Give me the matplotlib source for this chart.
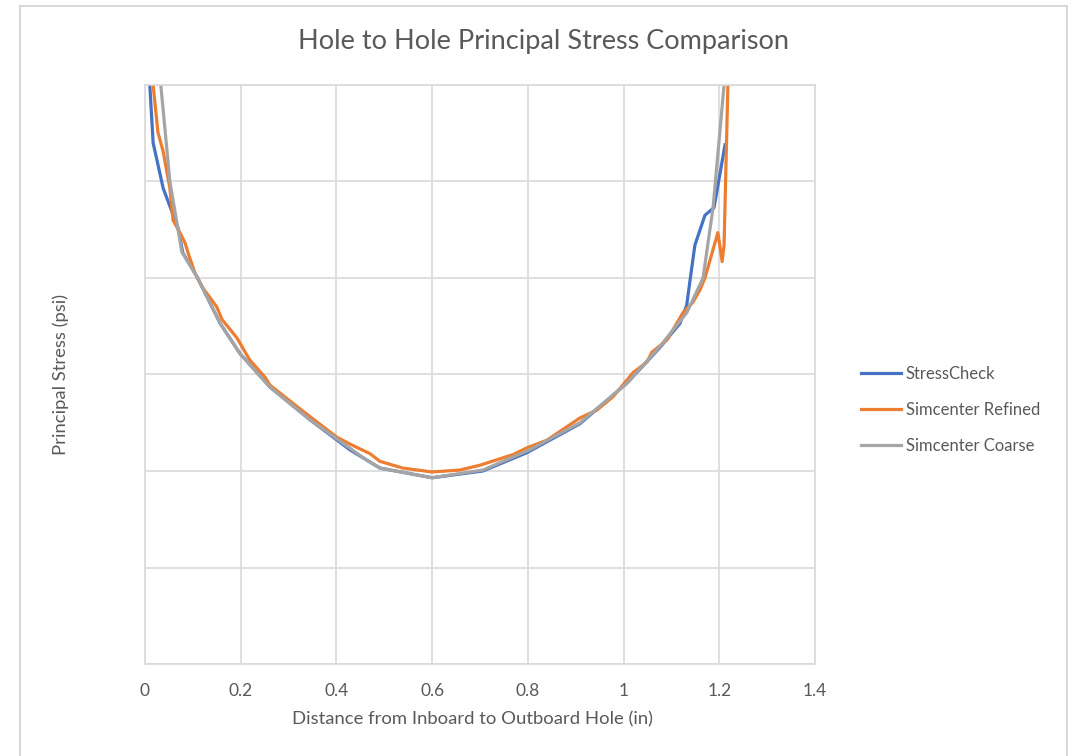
import matplotlib
matplotlib.use("Agg")
import matplotlib.pyplot as plt
from matplotlib.lines import Line2D

plt.rcParams['font.family'] = ['Lato', 'DejaVu Sans']

# Distance (in) and principal stress (psi) for each series
sc_x = [0.010, 0.017, 0.038, 0.069, 0.079, 0.109, 0.157, 0.198, 0.261, 0.345,
        0.428, 0.491, 0.600, 0.706, 0.798, 0.909, 1.007, 1.076, 1.118, 1.132,
        1.139, 1.149, 1.170, 1.189, 1.212]
sc_y = [60000, 54000, 49300, 45200, 42600, 40100, 35300, 32200, 28700, 25300,
        22200, 20300, 19300, 20000, 21900, 24900, 29100, 32800, 35300, 37200,
        39800, 43400, 46500, 47300, 53800]

sr_x = [0.014, 0.017, 0.027, 0.038, 0.052, 0.0585, 0.073, 0.084, 0.090, 0.1045,
        0.119, 0.150, 0.161, 0.192, 0.219, 0.251, 0.261, 0.330, 0.401, 0.428,
        0.470, 0.491, 0.539, 0.600, 0.658, 0.700, 0.769, 0.798, 0.840, 0.909,
        0.944, 0.978, 1.020, 1.049, 1.059, 1.091, 1.124, 1.145, 1.160, 1.170,
        1.197, 1.206, 1.210, 1.218, 1.222]
sr_y = [66000, 60000, 55100, 53100, 49300, 46000, 44700, 43600, 42600, 40500,
        39100, 37000, 35700, 33800, 31500, 29700, 28900, 26200, 23500, 22800,
        21800, 21000, 20300, 19900, 20100, 20600, 21700, 22400, 23200, 25500,
        26300, 27700, 30200, 31300, 32300, 33600, 36400, 37500, 38800, 40000,
        44700, 41700, 43400, 60000, 66000]

cc_x = [0.028, 0.033, 0.052, 0.077, 0.109, 0.157, 0.198, 0.261, 0.345, 0.464,
        0.491, 0.600, 0.706, 0.804, 0.909, 1.007, 1.076, 1.132, 1.166, 1.187,
        1.210, 1.214]
cc_y = [66000, 60000, 50000, 42700, 40100, 35300, 32200, 28700, 25300, 21100,
        20300, 19300, 20100, 22200, 25000, 29100, 32900, 36400, 40000, 47300,
        60000, 63000]

series_names = ["StressCheck", "Simcenter Refined", "Simcenter Coarse"]
colors = ["#4472C4", "#ED7D31", "#A5A5A5"]

x_ticks = [0, 0.2, 0.4, 0.6, 0.8, 1.0, 1.2, 1.4]
x_tick_labels = ["0", "0.2", "0.4", "0.6", "0.8", "1", "1.2", "1.4"]
y_ticks = [0, 10000, 20000, 30000, 40000, 50000, 60000]

fig = plt.figure(figsize=(10.76, 7.56), dpi=100)
# outer chart border
fig.add_artist(plt.Line2D([20/1076, 20/1076], [0, 1 - 6/756], color="#D9D9D9", lw=1.5))
fig.add_artist(plt.Line2D([20/1076, 1067/1076], [1 - 6/756, 1 - 6/756], color="#D9D9D9", lw=1.5))
fig.add_artist(plt.Line2D([1067/1076, 1067/1076], [0, 1 - 6/756], color="#D9D9D9", lw=1.5))

ax = fig.add_axes([145/1076, 1 - 664/756, 670/1076, 579/756])
ax.set_xlim(0, 1.4)
ax.set_ylim(0, 60000)
ax.set_xticks(x_ticks)
ax.set_xticklabels(x_tick_labels)
ax.set_yticks(y_ticks)
ax.tick_params(axis='y', labelleft=False, length=0)
ax.tick_params(axis='x', length=0, labelsize=12.5, labelcolor="#595959", pad=14)
ax.grid(True, color="#D9D9D9", lw=1.2)
ax.set_axisbelow(True)
for s in ax.spines.values():
    s.set_color("#D9D9D9")
    s.set_linewidth(1.2)

for xs, ys, c, n in zip([sc_x, sr_x, cc_x], [sc_y, sr_y, cc_y], colors, series_names):
    ax.plot(xs, ys, color=c, lw=2.3, label=n, solid_joinstyle='round')

fig.text(543/1076, 1 - 42/756, "Hole to Hole Principal Stress Comparison",
         ha="center", va="center", fontsize=19.5, color="#595959")
fig.text(472/1076, 1 - 719/756, "Distance from Inboard to Outboard Hole (in)",
         ha="center", va="center", fontsize=13.3, color="#595959")
fig.text(61/1076, 1 - 374/756, "Principal Stress (psi)", rotation=90,
         ha="center", va="center", fontsize=13.3, color="#595959")

handles = [Line2D([0], [0], color=c, lw=2.3) for c in colors]
leg = fig.legend(handles, series_names, loc="center left",
                 bbox_to_anchor=(846/1076, 1 - 410/756), frameon=False,
                 fontsize=12, handlelength=2.4, handletextpad=0.3,
                 labelspacing=1.2)
for t in leg.get_texts():
    t.set_color("#595959")

fig.savefig("out.png", dpi=100)
